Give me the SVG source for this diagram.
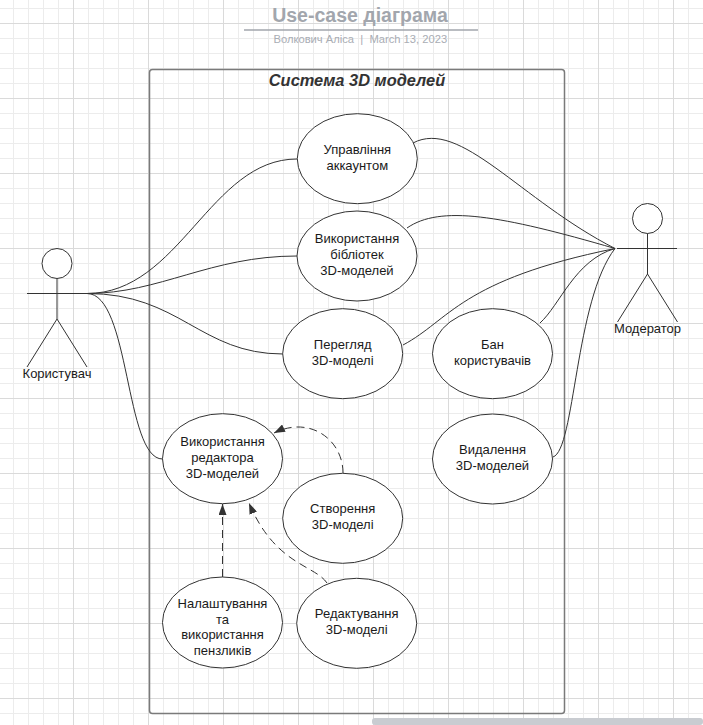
<svg xmlns="http://www.w3.org/2000/svg" width="703" height="725" viewBox="0 0 703 725">
  <style>
    .uc { fill: #ffffff; stroke: #333333; stroke-width: 1; }
    .txt { font-family: "Liberation Sans", Arial, sans-serif; font-size: 13px; fill: #1a1a1a; text-anchor: middle; }
    .actor { fill: none; stroke: #333333; stroke-width: 1; }
    .head { fill: #ffffff; stroke: #333333; stroke-width: 1; }
    .assoc { fill: none; stroke: #333333; stroke-width: 1; }
    .incl { fill: none; stroke: #333333; stroke-width: 1; stroke-dasharray: 8 5; marker-end: url(#arrow); }
  </style>
  <defs>
    <pattern id="grid" x="73" y="23" width="75" height="75" patternUnits="userSpaceOnUse">
      <path d="M15.5 0V75M30.5 0V75M45.5 0V75M60.5 0V75M0 15.5H75M0 30.5H75M0 45.5H75M0 60.5H75" stroke="#ececec" stroke-width="1" fill="none"/>
      <path d="M0.5 0V75M0 0.5H75" stroke="#dadada" stroke-width="1" fill="none"/>
    </pattern>
    <marker id="arrow" viewBox="0 0 11 8" refX="11" refY="4" markerWidth="11" markerHeight="8" markerUnits="userSpaceOnUse" orient="auto">
      <path d="M0,0 L11,4 L0,8 z" fill="#333333"/>
    </marker>
  </defs>

  <rect x="0" y="0" width="703" height="725" fill="#ffffff"/>
  <rect x="0" y="0" width="703" height="725" fill="url(#grid)"/>

  <g id="title">
    <text x="360" y="21.7" font-family="'Liberation Sans', Arial, sans-serif" font-size="19.5" font-weight="bold" fill="#a2a6ad" text-anchor="middle">Use-case діаграма</text>
    <line x1="244" y1="30" x2="478" y2="30" stroke="#a2a6ad" stroke-width="1.5"/>
    <text x="360.3" y="42.5" xml:space="preserve" font-family="'Liberation Sans', Arial, sans-serif" font-size="11.2" fill="#a9adb4" text-anchor="middle">Волкович Аліса  |  March 13, 2023</text>
  </g>

  <g id="system">
    <rect x="149.5" y="69.5" width="415" height="644" rx="3" fill="none" stroke="#7a7a7a" stroke-width="1.5"/>
    <text x="357" y="86" font-family="'Liberation Sans', Arial, sans-serif" font-size="16.4" font-weight="bold" font-style="italic" fill="#333333" text-anchor="middle">Система 3D моделей</text>
  </g>

  <g id="connectors">
    <path class="assoc" d="M87,293.5 C180,293.5 210,159 297,159"/>
    <path class="assoc" d="M87,293.5 C160,293.5 210,256 297,256"/>
    <path class="assoc" d="M87,293.5 C180,293.5 200,354 283,354"/>
    <path class="assoc" d="M87,293.5 C130,293.5 125,459 162.5,459"/>
    <path class="assoc" d="M413,143 C460,118 520,200 615,248.5"/>
    <path class="assoc" d="M407,228 C440,205 500,215 615,248.5"/>
    <path class="assoc" d="M403,345 C450,320 460,280 615,248.5"/>
    <path class="assoc" d="M540,323 C560,305 575,260 615,248.5"/>
    <path class="assoc" d="M553,457 C575,450 575,300 615,248.5"/>
    <path class="incl" d="M343,473 C343,440 310,415 274,433"/>
    <path class="incl" d="M222.5,577 L222.5,504"/>
    <path class="incl" d="M327,583 C315,565 275,565 249,503"/>
  </g>

  <g id="user">
    <circle class="head" cx="57" cy="263.5" r="15"/>
    <path class="actor" d="M57,278.5 V319 M27,293.5 H87 M57,319 L27,367 M57,319 L87,367"/>
    <text class="txt" x="57" y="378">Користувач</text>
  </g>

  <g id="moderator">
    <circle class="head" cx="647.5" cy="218.5" r="15"/>
    <path class="actor" d="M647.5,233.5 V274 M617,248.5 H677 M647.5,274 L617.5,322 M647.5,274 L677.5,322"/>
    <text class="txt" x="647.5" y="333">Модератор</text>
  </g>

  <g id="uc-account">
    <ellipse class="uc" cx="357.3" cy="158.7" rx="60" ry="45"/>
    <text class="txt" x="357.3" y="154"><tspan x="357.3">Управління</tspan><tspan x="357.3" dy="15.6">аккаунтом</tspan></text>
  </g>

  <g id="uc-library">
    <ellipse class="uc" cx="357" cy="256" rx="60" ry="45"/>
    <text class="txt" x="357" y="243"><tspan x="357">Використання</tspan><tspan x="357" dy="15.8">бібліотек</tspan><tspan x="357" dy="15.8">3D-моделей</tspan></text>
  </g>

  <g id="uc-view">
    <ellipse class="uc" cx="342.7" cy="353.7" rx="60" ry="45"/>
    <text class="txt" x="342.7" y="348.7"><tspan x="342.7">Перегляд</tspan><tspan x="342.7" dy="15.8">3D-моделі</tspan></text>
  </g>

  <g id="uc-ban">
    <ellipse class="uc" cx="492.5" cy="353.7" rx="60" ry="45"/>
    <text class="txt" x="492.5" y="348.7"><tspan x="492.5">Бан</tspan><tspan x="492.5" dy="15.8">користувачів</tspan></text>
  </g>

  <g id="uc-delete">
    <ellipse class="uc" cx="492.5" cy="459" rx="60" ry="45"/>
    <text class="txt" x="492.5" y="454"><tspan x="492.5">Видалення</tspan><tspan x="492.5" dy="15.8">3D-моделей</tspan></text>
  </g>

  <g id="uc-editor">
    <ellipse class="uc" cx="222.5" cy="458.7" rx="60" ry="45"/>
    <text class="txt" x="222.5" y="445.9"><tspan x="222.5">Використання</tspan><tspan x="222.5" dy="15.8">редактора</tspan><tspan x="222.5" dy="15.8">3D-моделей</tspan></text>
  </g>

  <g id="uc-create">
    <ellipse class="uc" cx="342.7" cy="518.3" rx="60" ry="45"/>
    <text class="txt" x="342.7" y="513.4"><tspan x="342.7">Створення</tspan><tspan x="342.7" dy="15.8">3D-моделі</tspan></text>
  </g>

  <g id="uc-brushes">
    <ellipse class="uc" cx="222.5" cy="622.5" rx="60" ry="45.5"/>
    <text class="txt" x="222.5" y="608"><tspan x="222.5">Налаштування</tspan><tspan x="222.5" dy="15.7">та</tspan><tspan x="222.5" dy="15.7">використання</tspan><tspan x="222.5" dy="15.7">пензликів</tspan></text>
  </g>

  <g id="uc-edit">
    <ellipse class="uc" cx="356.7" cy="623.3" rx="60" ry="45"/>
    <text class="txt" x="356.7" y="618.4"><tspan x="356.7">Редактування</tspan><tspan x="356.7" dy="15.8">3D-моделі</tspan></text>
  </g>

  <rect x="372" y="718" width="331" height="7" rx="3" fill="#c9ccd1"/>
</svg>
